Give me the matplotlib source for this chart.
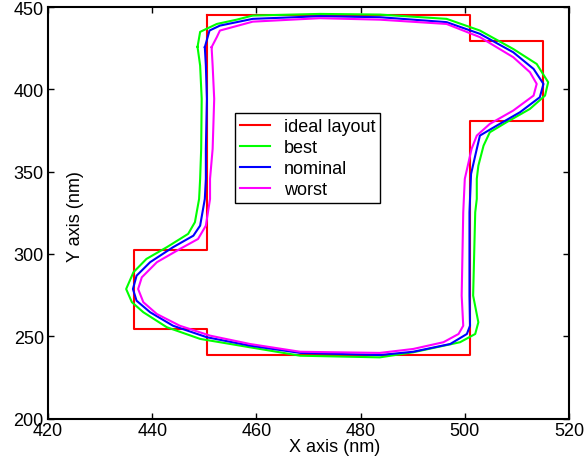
import numpy as np
import matplotlib
matplotlib.use("Agg")
import matplotlib.pyplot as plt

# ideal layout (red polygon)
ideal_x = [450.5, 501, 501, 515, 515, 501, 501, 450.5, 450.5, 436.5, 436.5, 450.5, 450.5]
ideal_y = [445, 445, 429.5, 429.5, 381, 381, 238.6, 238.6, 254.5, 254.5, 302.5, 302.5, 445]

# best contour (green)
best_x = [448.7, 449.2, 452.4, 456.2, 459.3, 472.2, 483.7, 496.5, 502.9, 509.3, 513.8, 516.0,
          515.4, 512.5, 508.0, 504.8, 503.6, 502.6, 502.3, 502.3, 502.0, 501.6, 502.6, 502.0,
          499.1, 490.1, 483.7, 468.4, 458.8, 449.2, 442.8, 438.3, 436.1, 435.0, 436.4, 438.9,
          442.8, 446.9, 448.2, 449.0, 449.2, 449.4, 449.5, 449.2]
best_y = [425.8, 434.9, 439.7, 442.3, 444.8, 445.8, 445.4, 442.8, 435.7, 424.5, 415.4, 404.3,
          396.2, 388.1, 380.0, 373.9, 365.8, 353.6, 345.6, 333.4, 325.3, 274.7, 258.5, 251.4,
          246.4, 240.3, 237.2, 238.2, 243.3, 248.4, 255.5, 264.6, 270.7, 278.7, 288.9, 297.0,
          304.1, 312.2, 319.3, 333.4, 345.6, 363.8, 394.2, 414.4]

# nominal contour (blue)
nominal_x = [450.1, 451.0, 453.0, 459.3, 472.2, 483.7, 496.5, 502.9, 509.3, 513.2, 515.1, 514.4,
             510.6, 506.1, 502.9, 502.3, 501.2, 501.0, 500.9, 500.9, 501.0, 500.4, 497.2, 490.1,
             483.7, 468.4, 458.8, 450.5, 444.0, 439.6, 437.0, 436.3, 437.0, 439.6, 444.0, 447.9,
             449.2, 450.1, 450.3, 450.3, 450.5, 450.3]
nominal_y = [425.6, 435.7, 438.7, 442.8, 444.4, 443.8, 440.8, 433.7, 422.5, 412.4, 403.3, 395.2,
             386.1, 377.9, 371.9, 363.8, 348.6, 333.4, 325.3, 274.7, 256.4, 251.4, 245.3, 240.6,
             238.6, 239.9, 244.3, 249.4, 256.4, 264.6, 271.6, 278.7, 286.8, 295.0, 304.1, 311.1,
             317.2, 333.4, 345.6, 363.8, 394.2, 414.4]

# worst contour (magenta)
worst_x = [451.4, 452.4, 453.0, 459.3, 472.2, 483.7, 496.5, 502.9, 509.3, 512.5, 513.8, 513.2,
           509.3, 504.8, 502.3, 501.3, 500.0, 499.7, 499.4, 499.7, 498.8, 495.9, 490.1, 483.7,
           468.4, 458.8, 451.1, 445.3, 440.9, 438.3, 437.3, 438.0, 440.9, 445.3, 448.8, 450.3,
           451.1, 451.1, 451.6, 451.9, 451.6]
worst_y = [425.6, 431.7, 435.7, 441.1, 443.2, 442.3, 439.7, 431.7, 419.5, 410.4, 403.3, 396.2,
           387.1, 379.0, 371.9, 363.8, 345.6, 325.3, 274.7, 256.4, 251.4, 246.4, 242.3, 239.9,
           240.6, 245.3, 250.4, 256.4, 263.5, 270.7, 278.7, 285.8, 295.0, 303.0, 309.1, 317.2,
           333.4, 345.6, 363.8, 394.2, 414.4]

x_ticks = [420, 440, 460, 480, 500, 520]
y_ticks = [200, 250, 300, 350, 400, 450]

plt.rcParams['font.family'] = ['Liberation Sans', 'DejaVu Sans']
plt.rcParams['font.size'] = 13

fig = plt.figure(figsize=(5.84, 4.60), dpi=100)
ax = fig.add_axes([48 / 584, 1 - 419.6 / 460, 521 / 584, 411.6 / 460])


def closed(v):
    return np.append(v, v[0])


ax.plot(ideal_x, ideal_y, color=(1, 0, 0), lw=1.5, label='ideal layout')
ax.plot(closed(best_x), closed(best_y), color=(0, 1, 0), lw=1.5, label='best')
ax.plot(closed(nominal_x), closed(nominal_y), color=(0, 0, 1), lw=1.5, label='nominal')
ax.plot(closed(worst_x), closed(worst_y), color=(1, 0, 1), lw=1.5, label='worst')

ax.set_xlim(420, 520)
ax.set_ylim(200, 450)
ax.set_xticks(x_ticks)
ax.set_yticks(y_ticks)
ax.tick_params(direction='in', length=4, width=1, top=True, right=True, labelsize=13)
ax.tick_params(axis='x', pad=2.5)
ax.tick_params(axis='y', pad=3)
for s in ax.spines.values():
    s.set_linewidth(1.5)

ax.set_xlabel('X axis (nm)', fontsize=13, va='center')
ax.xaxis.set_label_coords(287 / 521, -28.4 / 411.6)
ax.set_ylabel('Y axis (nm)', fontsize=13, va='center')
ax.yaxis.set_label_coords(28 / 521, 1 - 209 / 411.6)

leg = ax.legend(loc='upper left', bbox_to_anchor=(235 / 584, 1 - 114.3 / 460),
                bbox_transform=fig.transFigure, borderaxespad=0, fancybox=False,
                framealpha=1, edgecolor='black', fontsize=13, handlelength=1.66,
                handletextpad=0.75, borderpad=0.28, labelspacing=0.22)
leg.get_frame().set_linewidth(1.0)

fig.savefig('out.png', dpi=100)
